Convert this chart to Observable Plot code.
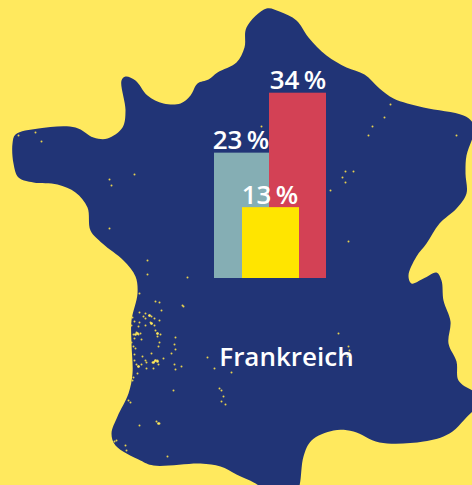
<!DOCTYPE html>
<html lang="de">
<head>
<meta charset="utf-8">
<script src="https://cdn.jsdelivr.net/npm/d3@7"></script>
<script src="https://cdn.jsdelivr.net/npm/@observablehq/plot@0.6"></script>
<style>
html,body{margin:0;padding:0;background:#FFE95E;overflow:hidden}
svg{display:block}
</style>
</head>
<body>
<div id="chart"></div>
<script>
// Percent values and bar categories
const labels = ["23\u2009%", "34\u2009%", "13\u2009%"];
const values = [23, 34, 13];
const colors = ["#85AEB4", "#D34155", "#FFE500"];
const barStart = [214, 269, 242];
const barEnd = [269, 326, 299];
const labelAt = [240.5, 297.5, 269.5];
const countryName = "Frankreich";

// Country outline (map units)
const outline = [[266,8],[279,11],[296,20],[308,37],[326,55],[346,67],[364,74],[379,88],[393,98],[423,107],[463,115],[472,122],[473,133],[466,155],[465,173],[466,193],[456,208],[439,223],[426,243],[416,256],[408,275],[411,283],[423,278],[436,272],[441,280],[443,300],[450,321],[448,343],[456,361],[458,380],[472,390],[482,394],[482,405],[472,411],[449,433],[423,441],[379,442],[353,431],[333,430],[311,440],[303,456],[299,485],[295,494],[265,494],[258,485],[236,474],[220,466],[200,463],[153,465],[140,460],[115,445],[111,433],[117,416],[128,393],[132,373],[131,343],[131,320],[137,293],[135,276],[123,260],[102,243],[90,230],[87,207],[75,192],[57,184],[33,182],[18,177],[13,163],[12,143],[15,134],[38,128],[75,127],[93,137],[107,138],[122,127],[125,110],[121,80],[125,76],[135,80],[147,95],[163,103],[180,103],[190,95],[197,83],[208,79],[217,72],[236,62],[244,47],[246,27]];

// Small yellow places on the map
const places = [[147,260],[147,274],[187,277],[139,293],[155,301],[159,302],[161,310],[182,305],[183,306],[139,312],[145,313],[132,317],[143,316],[149,315],[151,316],[154,318],[145,318],[159,320],[134,321],[150,322],[151,323],[139,322],[131,325],[138,326],[145,325],[154,325],[155,330],[136,332],[133,334],[138,334],[140,333],[157,333],[157,336],[160,334],[134,338],[141,339],[175,337],[131,342],[159,342],[174,344],[158,346],[133,346],[135,348],[175,349],[171,353],[151,353],[134,354],[142,356],[207,357],[163,358],[134,360],[145,360],[157,360],[154,361],[152,362],[146,362],[136,364],[138,366],[141,364],[158,364],[174,364],[181,366],[146,368],[153,368],[214,368],[175,369],[137,373],[231,372],[133,377],[132,380],[173,390],[219,388],[221,390],[223,396],[221,401],[225,404],[128,400],[130,402],[139,425],[156,421],[159,423],[116,440],[114,441],[125,445],[126,450],[167,456],[18,135],[35,132],[41,141],[134,174],[109,179],[111,185],[109,228],[390,104],[384,117],[372,126],[368,135],[456,135],[261,126],[345,171],[353,171],[342,177],[345,182],[330,190],[348,241],[338,333],[348,346],[349,350],[347,356]];
// Denser towns, drawn a little larger
const towns = [[149,315],[137,333],[155,360],[158,423],[138,366],[157,333],[151,323],[135,334],[157,361],[153,362]];

const W = 472, H = 485, base = 278, perPct = 5.45;
const mapY = v => (base - v) / perPct;   // map unit -> percent axis

const bars = values.map((v, i) => ({label: labels[i], v, color: colors[i], x1: barStart[i], x2: barEnd[i], lx: labelAt[i]}));
const font = "'Open Sans', 'Noto Sans', sans-serif";

const plot = Plot.plot({
  width: W, height: H,
  margin: 0,
  style: {background: "transparent", fontFamily: font},
  x: {domain: [0, W], range: [0, W], axis: null},
  y: {domain: [mapY(H), mapY(0)], range: [H, 0], axis: null},
  marks: [
    Plot.line(outline, {x: d => d[0], y: d => mapY(d[1]), curve: "catmull-rom-closed", fill: "#213476", stroke: "none"}),
    Plot.dot(places, {x: d => d[0], y: d => mapY(d[1]), r: 1, fill: "#E8D24E", stroke: "none"}),
    Plot.dot(towns, {x: d => d[0], y: d => mapY(d[1]), r: 1.3, fill: "#FFE95E", stroke: "none"}),
    Plot.rectY(bars, {x1: "x1", x2: "x2", y1: 0, y2: "v", fill: "color"}),
    Plot.text(bars, {x: "lx", y: "v", text: "label", dy: -4, lineAnchor: "bottom", fill: "white", fontSize: 26, fontWeight: 600}),
    Plot.text([countryName], {x: [286], y: [mapY(366)], text: d => d, lineAnchor: "bottom", dy: -1, fill: "white", fontSize: 26, fontWeight: 600})
  ]
});
document.getElementById("chart").appendChild(plot);
</script>
</body>
</html>
